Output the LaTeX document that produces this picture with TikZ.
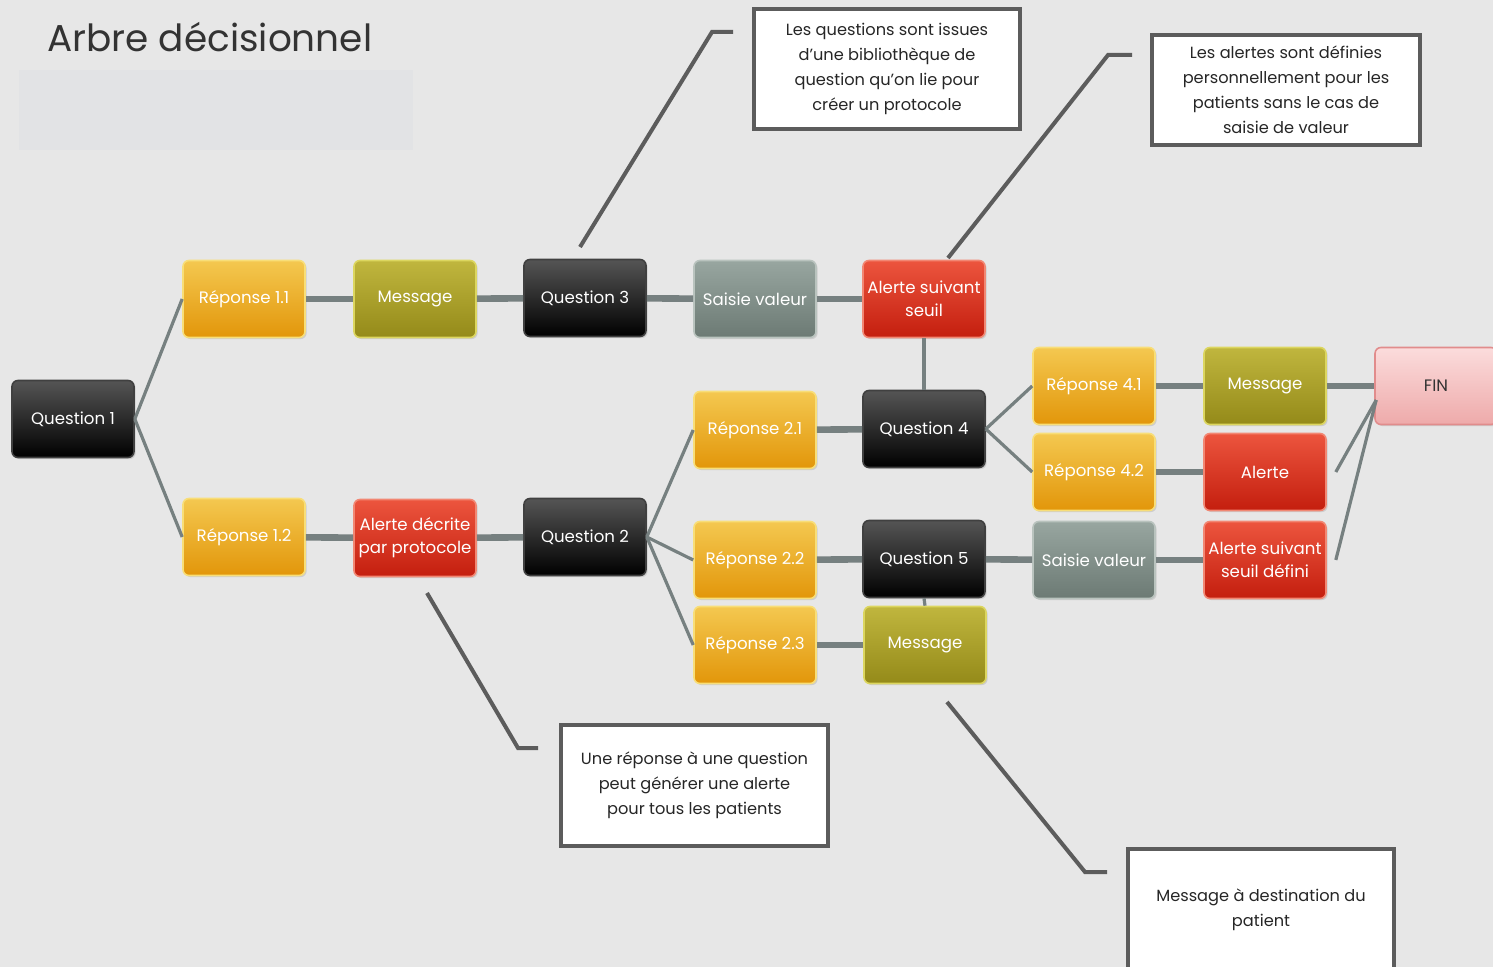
\documentclass[tikz,border=0pt]{standalone}
\usepackage{fontspec}
\setmainfont{Poppins}
\usetikzlibrary{calc,shadows}
\definecolor{bgc}{RGB}{231,231,231}
\definecolor{blankc}{RGB}{226,227,229}
\definecolor{qtop}{RGB}{85,85,85}
\definecolor{qbot}{RGB}{0,0,0}
\definecolor{rtop}{RGB}{244,200,80}
\definecolor{rbot}{RGB}{226,150,10}
\definecolor{rbrd}{RGB}{248,222,120}
\definecolor{mtop}{RGB}{192,182,62}
\definecolor{mbot}{RGB}{148,138,25}
\definecolor{mbrd}{RGB}{220,214,95}
\definecolor{stop}{RGB}{152,166,160}
\definecolor{sbot}{RGB}{108,122,116}
\definecolor{sbrd}{RGB}{185,195,190}
\definecolor{atop}{RGB}{236,85,62}
\definecolor{abot}{RGB}{196,30,14}
\definecolor{abrd}{RGB}{242,135,115}
\definecolor{ftop}{RGB}{251,220,220}
\definecolor{fbot}{RGB}{238,170,170}
\definecolor{fbrd}{RGB}{225,140,140}
\definecolor{linkc}{RGB}{118,128,128}
\definecolor{callc}{RGB}{92,92,92}
\begin{document}
\begin{tikzpicture}[x=0.5pt,y=-0.5pt,
  box/.style={rounded corners=3pt, minimum width=61pt, minimum height=38.5pt,
    inner sep=1pt, align=center, font=\fontsize{8.3}{11.5}\selectfont, text=white,
    line width=0.8pt, drop shadow={shadow xshift=0.8pt, shadow yshift=-0.8pt, opacity=0.25}},
  qbox/.style={box, top color=qtop, bottom color=qbot, draw=black!75},
  rbox/.style={box, top color=rtop, bottom color=rbot, draw=rbrd},
  mbox/.style={box, top color=mtop, bottom color=mbot, draw=mbrd},
  sbox/.style={box, top color=stop, bottom color=sbot, draw=sbrd},
  abox/.style={box, top color=atop, bottom color=abot, draw=abrd},
  finbox/.style={box, top color=ftop, bottom color=fbot, draw=fbrd, text=black!80},
  link/.style={draw=linkc, line width=3.3pt},
  branch/.style={draw=linkc, line width=1.6pt},
  callline/.style={draw=callc, line width=2pt},
  calbox/.style={draw=callc, line width=2pt, fill=white, align=center,
    font=\fontsize{8.1}{12.5}\selectfont, text=black!85, inner sep=2pt}
]
\useasboundingbox (0,0) rectangle (1493,967);
\clip (0,0) rectangle (1493,967);
\fill[bgc] (0,0) rectangle (1493,967);

% title
\node[anchor=west, font=\fontsize{18.7}{22}\selectfont, text=black!80, inner sep=0pt] (title) at (47,37) {Arbre décisionnel};
\node[fill=blankc, minimum width=197pt, minimum height=40pt, inner sep=0pt] (blank) at (216,110) {};

% nodes
\node[qbox] (q1) at (73,419) {Question 1};
\node[rbox] (r11) at (244,299) {Réponse 1.1};
\node[mbox] (m1) at (415,299) {Message};
\node[qbox] (q3) at (585,298) {Question 3};
\node[sbox] (s3) at (755,299) {Saisie valeur};
\node[abox] (as) at (924,299) {Alerte suivant\\seuil};
\node[rbox] (r12) at (244,537) {Réponse 1.2};
\node[abox] (ad) at (415,538) {Alerte décrite\\par protocole};
\node[qbox] (q2) at (585,537) {Question 2};
\node[rbox] (r21) at (755,430) {Réponse 2.1};
\node[qbox] (q4) at (924,429) {Question 4};
\node[rbox] (r22) at (755,560) {Réponse 2.2};
\node[qbox] (q5) at (924,559) {Question 5};
\node[rbox] (r23) at (755,645) {Réponse 2.3};
\node[mbox] (m23) at (925,645) {Message};
\node[rbox] (r41) at (1094,386) {Réponse 4.1};
\node[mbox] (m41) at (1265,386) {Message};
\node[rbox] (r42) at (1094,472) {Réponse 4.2};
\node[abox] (al) at (1265,472) {Alerte};
\node[sbox] (s5) at (1094,560) {Saisie valeur};
\node[abox] (asd) at (1265,560) {Alerte suivant\\seuil défini};
\node[finbox] (fin) at (1436,386) {FIN};

% connectors
\draw[branch] (q1.east) -- (r11.west);
\draw[branch] (q1.east) -- (r12.west);
\draw[link] (r11) -- (m1);
\draw[link] (m1) -- (q3);
\draw[link] (q3) -- (s3);
\draw[link] (s3) -- (as);
\draw[branch] (as.south) -- (q4.north);
\draw[link] (r12) -- (ad);
\draw[link] (ad) -- (q2);
\draw[branch] (q2.east) -- (r21.west);
\draw[branch] (q2.east) -- (r22.west);
\draw[branch] (q2.east) -- (r23.west);
\draw[link] (r21) -- (q4);
\draw[branch] (q4.east) -- (r41.west);
\draw[branch] (q4.east) -- (r42.west);
\draw[link] (r41) -- (m41);
\draw[link] (m41) -- (fin);
\draw[link] (r42) -- (al);
\draw[link] (r22) -- (q5);
\draw[link] (q5) -- (s5);
\draw[link] (s5) -- (asd);
\draw[branch] (q5.south) -- (m23.north);
\draw[link] (r23) -- (m23);
\draw[branch] ($(al.east)+(9,0)$) -- ($(fin.west)+(2,14)$);
\draw[branch] ($(asd.east)+(9,0)$) -- ($(fin.west)+(2,14)$);

% callouts
\node[calbox, minimum width=133pt, minimum height=60pt] (c1) at (887,69)
  {Les questions sont issues\\d'une bibliothèque de\\question qu'on lie pour\\créer un protocole};
\node[calbox, minimum width=134pt, minimum height=55pt] (c2) at (1286,90)
  {Les alertes sont définies\\personnellement pour les\\patients sans le cas de\\saisie de valeur};
\node[calbox, minimum width=133.5pt, minimum height=60.5pt] (c3) at (694.5,785.5)
  {Une réponse à une question\\peut générer une alerte\\pour tous les patients};
\node[calbox, minimum width=133pt, minimum height=61pt] (c4) at (1261,910)
  {Message à destination du\\patient};

\coordinate (c1s) at (580,247);
\coordinate (c1k) at (712,32);
\coordinate (c1e) at (733,32);
\draw[callline] (c1s) -- (c1k) -- (c1e);
\coordinate (c2s) at (948,258);
\coordinate (c2k) at (1108,55);
\coordinate (c2e) at (1132,55);
\draw[callline] (c2s) -- (c2k) -- (c2e);
\coordinate (c3s) at (427,593);
\coordinate (c3k) at (518,748);
\coordinate (c3e) at (538,748);
\draw[callline] (c3s) -- (c3k) -- (c3e);
\coordinate (c4s) at (947,702);
\coordinate (c4k) at (1085,872);
\coordinate (c4e) at (1107,872);
\draw[callline] (c4s) -- (c4k) -- (c4e);
\end{tikzpicture}
\end{document}
